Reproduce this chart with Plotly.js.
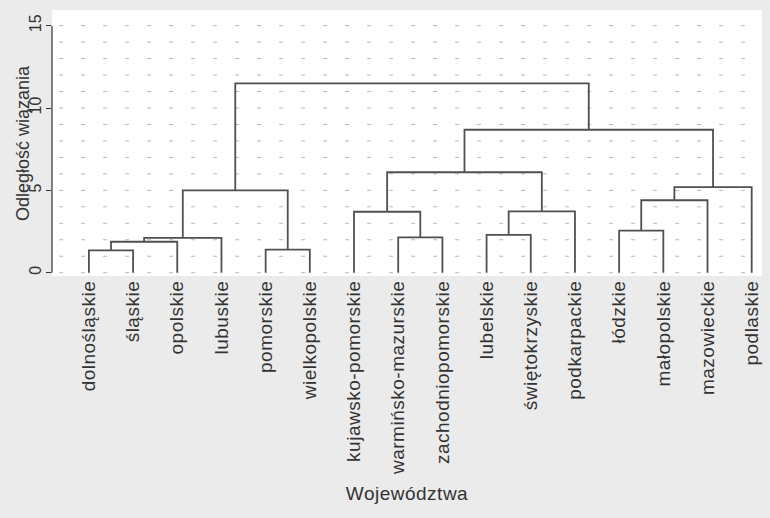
<!DOCTYPE html>
<html>
<head>
<meta charset="utf-8">
<script src="https://cdn.plot.ly/plotly-3.0.1.min.js"></script>
<style>
html,body{margin:0;padding:0;background:#ebebeb;}
#chart{width:770px;height:518px;}
#chart .xtick text, #chart .g-xtitle text{letter-spacing:0.5px;}
</style>
</head>
<body>
<div id="chart"></div>
<script>
// Leaf labels in dendrogram order
const leaves = ["dolnośląskie","śląskie","opolskie","lubuskie","pomorskie","wielkopolskie",
  "kujawsko-pomorskie","warmińsko-mazurskie","zachodniopomorskie","lubelskie","świętokrzyskie",
  "podkarpackie","łódzkie","małopolskie","mazowieckie","podlaskie"];
// hclust-style merges: negative = leaf index (1-based), positive = earlier merge step
const mergeA = [-1, -5, 1, 3, -8, -10, -13, -7, 6, 7, 4, 10, 8, 13, 11];
const mergeB = [-2, -6, -3, -4, -9, -11, -14, 5, -12, -15, 2, -16, 9, 12, 14];
const mergeHeight = [1.35, 1.4, 1.88, 2.12, 2.15, 2.3, 2.55, 3.7, 3.72, 4.4, 5.0, 5.2, 6.1, 8.68, 11.5];
const yTicks = [0, 5, 10, 15];

const nodeX = [], nodeH = [];
function pos(c){ return c < 0 ? [-c, 0] : [nodeX[c-1], nodeH[c-1]]; }
const xs = [], ys = [];
for (let i = 0; i < mergeA.length; i++) {
  const [xa, ha] = pos(mergeA[i]);
  const [xb, hb] = pos(mergeB[i]);
  const h = mergeHeight[i];
  xs.push(xa, xa, xb, xb, null);
  ys.push(ha, h, h, hb, null);
  nodeX.push((xa + xb) / 2);
  nodeH.push(h);
}

const trace = {
  x: xs, y: ys, type: 'scatter', mode: 'lines',
  line: {color: '#505050', width: 1.8},
  hoverinfo: 'skip', showlegend: false
};

const layout = {
  width: 770, height: 518,
  paper_bgcolor: '#ebebeb', plot_bgcolor: '#ffffff',
  margin: {l: 52, r: 8, t: 10, b: 242},
  font: {family: 'Liberation Sans, Arial, sans-serif', color: '#333333'},
  xaxis: {
    range: [0.165, 16.233],
    tickmode: 'array', tickvals: leaves.map((_, i) => i + 1), ticktext: leaves,
    tickangle: -90, ticks: '', showgrid: false, zeroline: false, showline: false,
    tickfont: {size: 19, color: '#333333'},
    title: {text: 'Województwa', font: {size: 19, color: '#333333'}, standoff: 22}
  },
  yaxis: {
    range: [-0.2, 15.95],
    tickmode: 'array', tickvals: yTicks, ticktext: yTicks.map(String),
    tickangle: -90, ticks: 'outside', ticklen: 5, tickcolor: '#333333',
    ticklabelstandoff: -1,
    tickfont: {size: 16, color: '#333333'},
    zeroline: false, showline: false,
    showgrid: false
  },
  annotations: [
    {text: 'Odległość wiązania', xref: 'paper', yref: 'paper', x: 0, y: 0.5,
     xanchor: 'center', yanchor: 'middle', xshift: -29, textangle: -90,
     showarrow: false, font: {size: 18, color: '#333333'}}
  ],
  shapes: [
    {type: 'line', xref: 'paper', x0: 0, x1: 0, yref: 'y', y0: 0, y1: 15,
     line: {color: '#333333', width: 1.2}}
  ].concat(Array.from({length: 16}, (_, k) => ({
    type: 'line', xref: 'paper', x0: 0.01, x1: 1, yref: 'y', y0: k, y1: k,
    layer: 'below', line: {color: '#b8b8b8', width: 1, dash: '4px,18px'}
  })))
};

Plotly.newPlot('chart', [trace], layout, {displayModeBar: false, staticPlot: true});
</script>
</body>
</html>
